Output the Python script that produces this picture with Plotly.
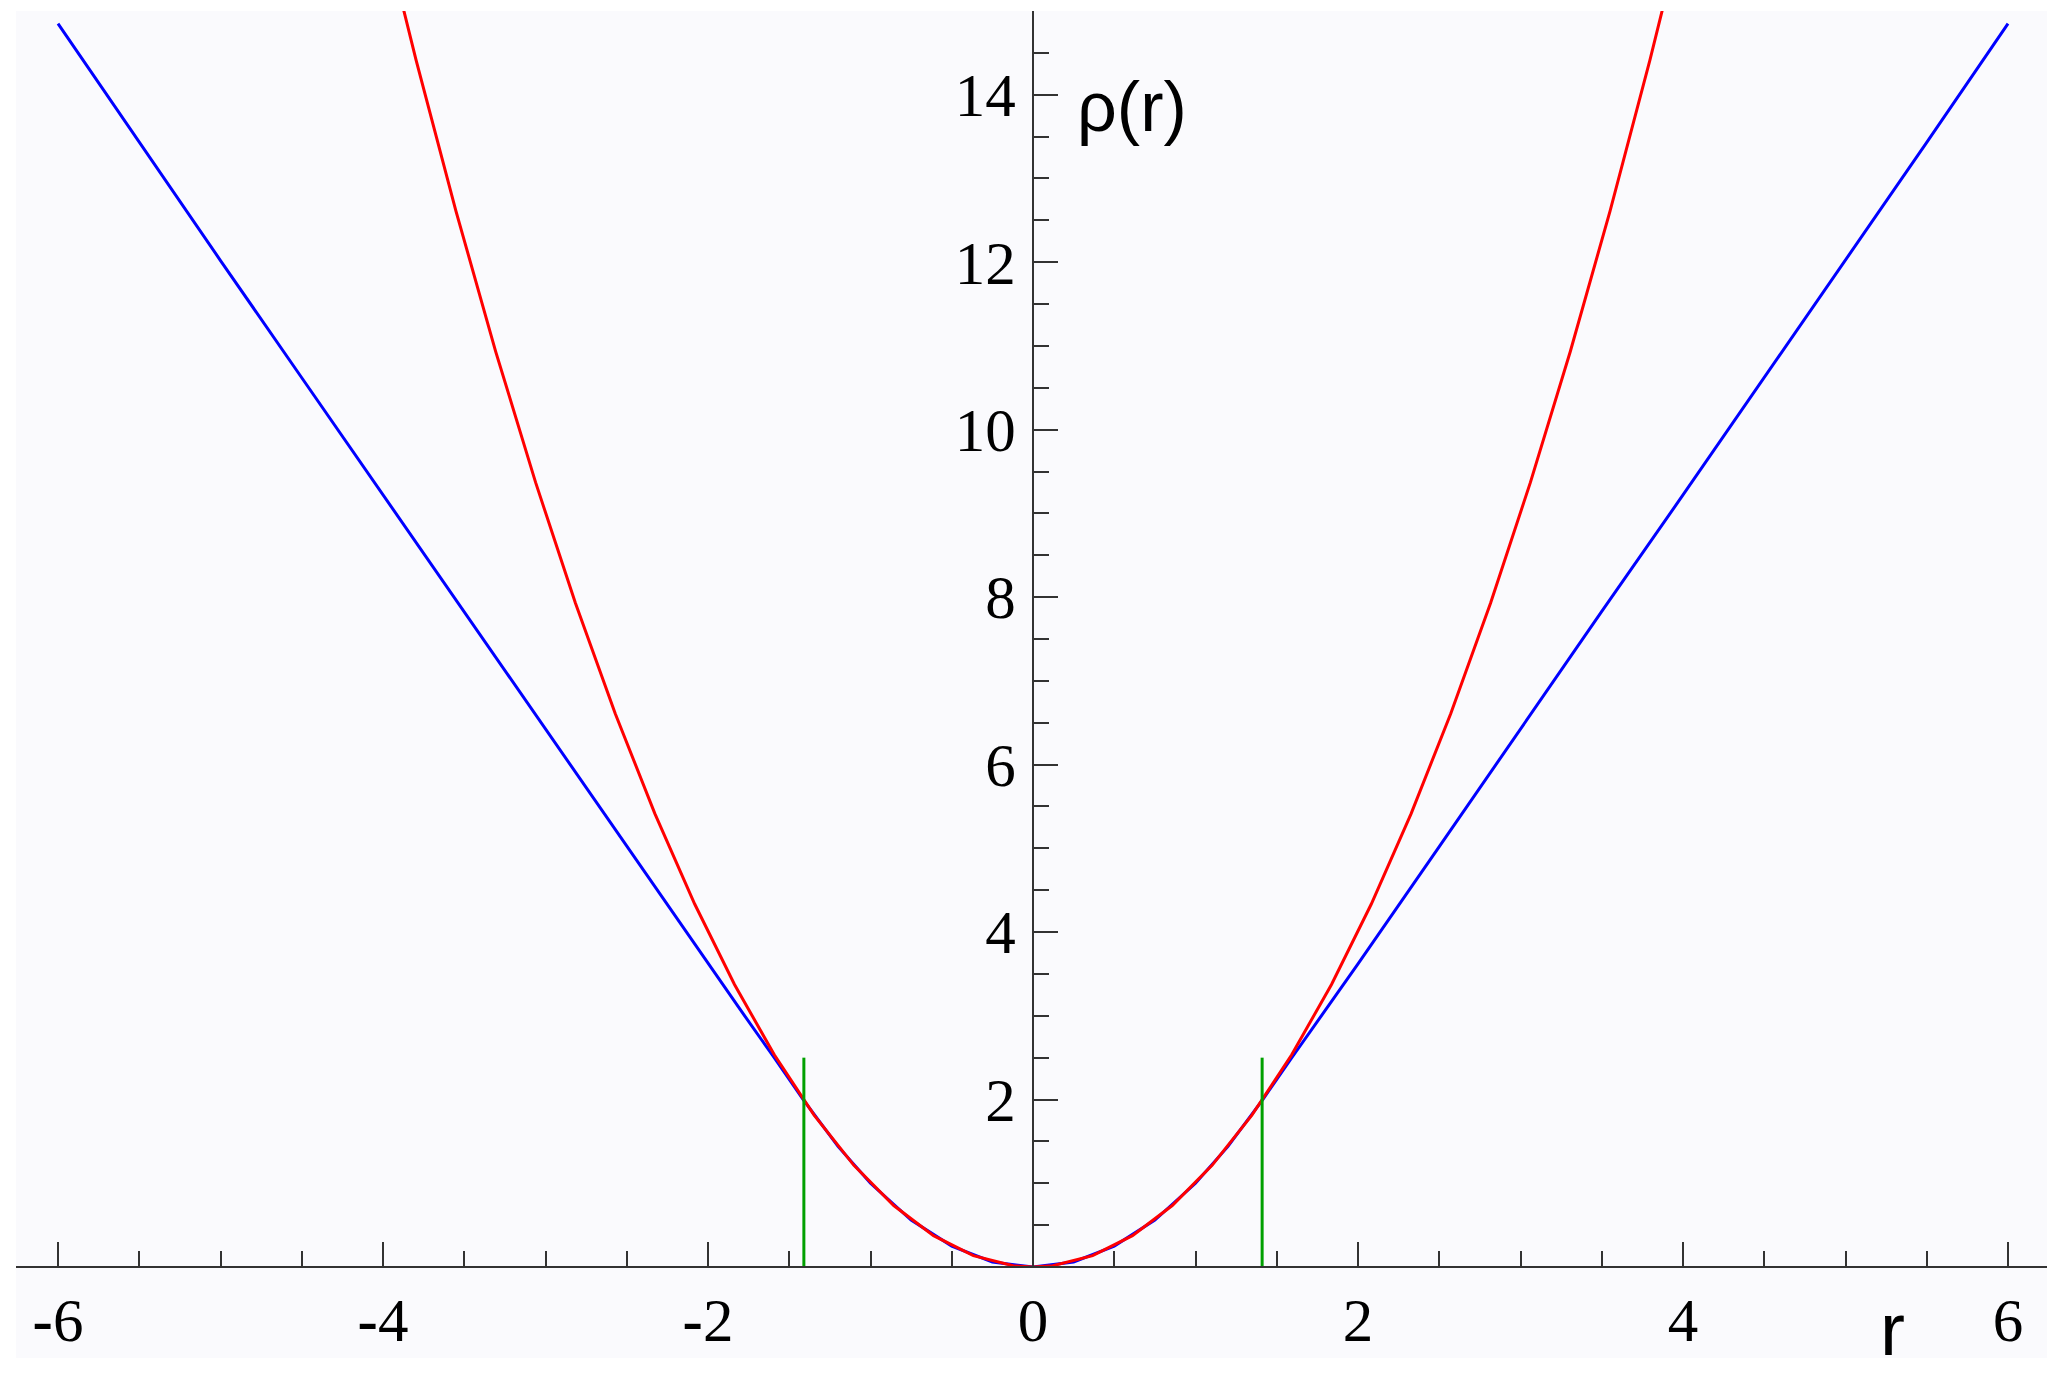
import plotly.graph_objects as go

# red curve samples (r, rho)
red_r = [-4.041, -3.796, -3.551, -3.306, -3.061, -2.816, -2.571, -2.327, -2.082,
         -1.837, -1.592, -1.347, -1.102, -0.857, -0.612, -0.367, -0.122, 0.0,
         0.122, 0.367, 0.612, 0.857, 1.102, 1.347, 1.592, 1.837, 2.082,
         2.327, 2.571, 2.816, 3.061, 3.306, 3.551, 3.796, 4.041]
red_rho = [16.33, 14.41, 12.61, 10.93, 9.37, 7.93, 6.61, 5.415, 4.335,
           3.374, 2.534, 1.814, 1.214, 0.734, 0.375, 0.135, 0.015, 0.0,
           0.015, 0.135, 0.375, 0.734, 1.214, 1.814, 2.534, 3.374, 4.335,
           5.415, 6.61, 7.93, 9.37, 10.93, 12.61, 14.41, 16.33]

# blue curve samples (r, rho)
blue_r = [-6.0, -5.5, -5.0, -4.5, -4.0, -3.5, -3.0, -2.5, -2.0, -1.8, -1.6,
          -1.414, -1.2, -1.0, -0.75, -0.5, -0.25, 0.0, 0.25, 0.5, 0.75, 1.0,
          1.2, 1.414, 1.6, 1.8, 2.0, 2.5, 3.0, 3.5, 4.0, 4.5, 5.0, 5.5, 6.0]
blue_rho = [14.85, 13.43, 12.02, 10.62, 9.22, 7.83, 6.43, 5.02, 3.62, 3.07, 2.52,
            2.0, 1.44, 1.0, 0.56, 0.25, 0.06, 0.0, 0.06, 0.25, 0.56, 1.0,
            1.44, 2.0, 2.52, 3.07, 3.62, 5.02, 6.43, 7.83, 9.22, 10.62, 12.02, 13.43, 14.85]

# green markers
green_r = [-1.41, 1.41]
green_top = 2.5

x_ticks = [-6, -4, -2, 0, 2, 4, 6]
x_ticktext = ["<b>-</b>6", "<b>-</b>4", "<b>-</b>2", "0", "2", "4", "6"]
y_ticks = [2, 4, 6, 8, 10, 12, 14]
y_ticktext = ["2", "4", "6", "8", "10", "12", "14"]

W, H = 2067, 1375
ML, MR, MT, MB = 16, 20, 11, 17
px_per_r = 162.5
x_lo = -6 - 42 / px_per_r
x_hi = 6 + 39 / px_per_r
plot_h = H - MT - MB
y_bottom = (1358 - 1267) / plot_h  # where rho = 0 sits inside the plot area

axis_col = "#333333"
tick_font = dict(family="Liberation Serif, Times New Roman, serif", size=61, color="black")
label_font = "Liberation Sans, Arial, sans-serif"

fig = go.Figure()

fig.add_trace(go.Scatter(x=blue_r, y=blue_rho, mode="lines",
                         line=dict(color="#0000ff", width=3), showlegend=False))
fig.add_trace(go.Scatter(x=red_r, y=red_rho, mode="lines",
                         line=dict(color="#ff0000", width=3), showlegend=False))
for g in green_r:
    fig.add_trace(go.Scatter(x=[g, g], y=[0, green_top], mode="lines",
                             line=dict(color="#00a000", width=3), showlegend=False))

fig.update_layout(
    template="none",
    width=W, height=H,
    margin=dict(l=ML, r=MR, t=MT, b=MB),
    paper_bgcolor="white",
    plot_bgcolor="rgba(0,0,0,0)",
    xaxis=dict(
        range=[x_lo, x_hi], domain=[0, 1], anchor="free", position=y_bottom,
        showgrid=False, zeroline=False, showline=True, linecolor=axis_col, linewidth=2,
        tickmode="array", tickvals=x_ticks, ticktext=x_ticktext,
        ticks="inside", ticklen=24, tickwidth=2, tickcolor=axis_col,
        tickfont=tick_font, ticklabelstandoff=0,
        minor=dict(tickmode="linear", tick0=0, dtick=0.5, ticks="inside",
                   ticklen=15, tickwidth=2, tickcolor=axis_col, showgrid=False),
        automargin=False,
    ),
    yaxis=dict(
        range=[0, 15], domain=[y_bottom, 1], anchor="free",
        position=(0 - x_lo) / (x_hi - x_lo),
        showgrid=False, zeroline=False, showline=True, linecolor=axis_col, linewidth=2,
        tickmode="array", tickvals=y_ticks, ticktext=y_ticktext,
        ticks="inside", ticklen=24, tickwidth=2, tickcolor=axis_col,
        tickfont=tick_font, ticklabelstandoff=4,
        minor=dict(tickmode="linear", tick0=0, dtick=0.5, ticks="inside",
                   ticklen=15, tickwidth=2, tickcolor=axis_col, showgrid=False),
        automargin=False,
    ),
    shapes=[dict(type="rect", xref="paper", yref="paper", x0=0, x1=1, y0=0, y1=1,
                 fillcolor="#fafafd", line=dict(width=0), layer="below")],
    annotations=[
        dict(text="ρ(r)", x=0.26, y=13.85, xref="x", yref="y", xanchor="left",
             yanchor="middle", showarrow=False,
             font=dict(family=label_font, size=70, color="black")),
        dict(text="r", x=(5.29 - x_lo) / (x_hi - x_lo), y=-0.0105, xref="paper", yref="paper",
             xanchor="center", yanchor="bottom", showarrow=False, borderpad=0,
             font=dict(family=label_font, size=75, color="black")),
    ],
)

fig.write_html("out.html", config={"displayModeBar": False},
               post_script="document.body.style.margin='0';")
